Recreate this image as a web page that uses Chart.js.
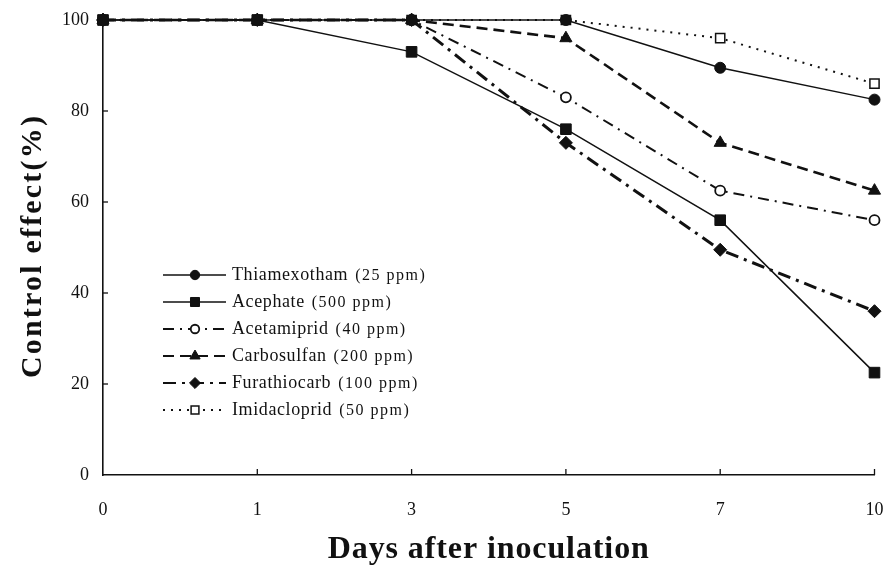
<!DOCTYPE html>
<html>
<head>
<meta charset="utf-8">
<script src="https://cdn.jsdelivr.net/npm/chart.js@4/dist/chart.umd.min.js"></script>
<style>
  html, body { margin: 0; padding: 0; background: #ffffff; }
  #c { display: block; }
</style>
</head>
<body>
<canvas id="c" width="883" height="565"></canvas>
<script>
// ---- data ----
const days = ['0', '1', '3', '5', '7', '10'];
const thiamexotham = [100, 100, 100, 100, 89.5, 82.5];
const acephate     = [100, 100, 93, 76, 56, 22.5];
const acetamiprid  = [100, 100, 100, 83, 62.5, 56];
const carbosulfan  = [100, 100, 100, 96, 73, 62.5];
const furathiocarb = [100, 100, 100, 73, 49.5, 36];
const imidacloprid = [100, 100, 100, 100, 96, 86];
const seriesNames  = ['Thiamexotham', 'Acephate', 'Acetamiprid', 'Carbosulfan', 'Furathiocarb', 'Imidacloprid'];
const seriesDoses  = ['(25 ppm)', '(500 ppm)', '(40 ppm)', '(200 ppm)', '(100 ppm)', '(50 ppm)'];
const yTickValues  = [0, 20, 40, 60, 80, 100];
const xTitle = 'Days after inoculation';
const yTitle = 'Control effect(%)';

const INK = '#111111';
const SERIF = '"Liberation Serif", "Times New Roman", serif';

function ds(label, data, st) {
  return Object.assign({
    label: label,
    data: data,
    borderColor: INK,
    backgroundColor: INK,
    pointBorderColor: INK,
    tension: 0,
    fill: false,
    clip: false
  }, st);
}

const datasets = [
  ds(seriesNames[0], thiamexotham, { borderWidth: 1.5, borderDash: [], pointStyle: 'circle', pointRadius: 5.5, pointBackgroundColor: INK, pointBorderWidth: 1 }),
  ds(seriesNames[1], acephate,     { borderWidth: 1.5, borderDash: [], pointStyle: 'rect', pointRadius: 7.5, pointBackgroundColor: INK, pointBorderWidth: 1 }),
  ds(seriesNames[2], acetamiprid,  { borderWidth: 2, borderDash: [11, 6, 2, 6], pointStyle: 'circle', pointRadius: 5, pointBackgroundColor: '#ffffff', pointBorderWidth: 1.8 }),
  ds(seriesNames[3], carbosulfan,  { borderWidth: 2.6, borderDash: [11, 6], pointStyle: 'triangle', pointRadius: 7, pointBackgroundColor: INK, pointBorderWidth: 1 }),
  ds(seriesNames[4], furathiocarb, { borderWidth: 3, borderDash: [13, 6, 3, 6], pointStyle: 'rectRot', pointRadius: 6.5, pointBackgroundColor: INK, pointBorderWidth: 1 }),
  ds(seriesNames[5], imidacloprid, { borderWidth: 2, borderDash: [2, 6], pointStyle: 'rect', pointRadius: 6.5, pointBackgroundColor: '#ffffff', pointBorderWidth: 1.5 })
];

function drawMarker(ctx, style, r, x, y, fill, bw) {
  ctx.save();
  ctx.setLineDash([]);
  ctx.beginPath();
  if (style === 'circle') {
    ctx.arc(x, y, r, 0, Math.PI * 2);
  } else if (style === 'rect') {
    const s = Math.SQRT1_2 * r;
    ctx.rect(x - s, y - s, 2 * s, 2 * s);
  } else if (style === 'triangle') {
    let a = 0;
    ctx.moveTo(x + Math.sin(a) * r, y - Math.cos(a) * r);
    a += 2 * Math.PI / 3;
    ctx.lineTo(x + Math.sin(a) * r, y - Math.cos(a) * r);
    a += 2 * Math.PI / 3;
    ctx.lineTo(x + Math.sin(a) * r, y - Math.cos(a) * r);
    ctx.closePath();
  } else if (style === 'rectRot') {
    ctx.moveTo(x - r, y);
    ctx.lineTo(x, y - r);
    ctx.lineTo(x + r, y);
    ctx.lineTo(x, y + r);
    ctx.closePath();
  }
  ctx.fillStyle = fill;
  ctx.fill();
  ctx.lineWidth = bw;
  ctx.strokeStyle = INK;
  ctx.stroke();
  ctx.restore();
}

const bgPlugin = {
  id: 'bg',
  beforeDraw(chart) {
    const ctx = chart.ctx;
    ctx.save();
    ctx.fillStyle = '#ffffff';
    ctx.fillRect(0, 0, chart.width, chart.height);
    ctx.restore();
  }
};

// inward tick marks, axis titles and legend
const decoPlugin = {
  id: 'deco',
  afterDraw(chart) {
    const ctx = chart.ctx;
    const xs = chart.scales.x, ys = chart.scales.y;
    const area = chart.chartArea;
    ctx.save();
    ctx.strokeStyle = INK;
    ctx.lineWidth = 1.3;
    ctx.setLineDash([]);
    yTickValues.forEach(v => {
      if (v === 0) return;
      const py = ys.getPixelForValue(v);
      ctx.beginPath();
      ctx.moveTo(area.left, py);
      ctx.lineTo(area.left + 5, py);
      ctx.stroke();
    });
    days.forEach((d, i) => {
      if (i === 0) return;
      const px = xs.getPixelForValue(i);
      ctx.beginPath();
      ctx.moveTo(px, area.bottom);
      ctx.lineTo(px, area.bottom - 6);
      ctx.stroke();
    });
    ctx.restore();

    // axis titles
    ctx.save();
    ctx.fillStyle = INK;
    ctx.textAlign = 'center';
    ctx.textBaseline = 'alphabetic';
    if ('letterSpacing' in ctx) ctx.letterSpacing = '0.9px';
    ctx.font = 'bold 32px ' + SERIF;
    ctx.fillText(xTitle, (area.left + area.right) / 2, 558);
    ctx.restore();

    ctx.save();
    ctx.fillStyle = INK;
    ctx.translate(33, 246);
    ctx.rotate(-Math.PI / 2);
    ctx.textAlign = 'center';
    ctx.textBaseline = 'middle';
    if ('letterSpacing' in ctx) ctx.letterSpacing = '2.2px';
    ctx.font = 'bold 30px ' + SERIF;
    ctx.fillText(yTitle, 0, 0);
    ctx.restore();

    // legend
    const lx0 = 163, lx1 = 226, mx = 195, tx = 232;
    const rowY0 = 275, rowStep = 27;
    chart.data.datasets.forEach((d, i) => {
      const y = rowY0 + i * rowStep;
      ctx.save();
      ctx.strokeStyle = INK;
      ctx.lineWidth = Math.min(d.borderWidth, 2.2);
      ctx.setLineDash(d.borderDash || []);
      ctx.beginPath();
      ctx.moveTo(lx0, y);
      ctx.lineTo(lx1, y);
      ctx.stroke();
      ctx.restore();
      drawMarker(ctx, d.pointStyle, d.pointRadius * 0.85, mx, y, d.pointBackgroundColor, d.pointBorderWidth);
      ctx.save();
      ctx.fillStyle = INK;
      ctx.textBaseline = 'middle';
      ctx.textAlign = 'left';
      if ('letterSpacing' in ctx) ctx.letterSpacing = '0.6px';
      ctx.font = '18px ' + SERIF;
      ctx.fillText(seriesNames[i], tx, y);
      const w = ctx.measureText(seriesNames[i]).width;
      if ('letterSpacing' in ctx) ctx.letterSpacing = '1.5px';
      ctx.font = '16px ' + SERIF;
      ctx.fillText(seriesDoses[i], tx + w + 7, y + 1);
      ctx.restore();
    });
  }
};

new Chart(document.getElementById('c'), {
  type: 'line',
  data: { labels: days, datasets: datasets },
  plugins: [bgPlugin, decoPlugin],
  options: {
    responsive: false,
    animation: false,
    devicePixelRatio: 1,
    layout: { padding: { left: 0, right: 8, top: 20, bottom: 0 } },
    plugins: { legend: { display: false }, tooltip: { enabled: false }, title: { display: false } },
    elements: { line: { borderCapStyle: 'butt' } },
    scales: {
      x: {
        type: 'category',
        offset: false,
        grid: { display: true, drawOnChartArea: false, drawTicks: true, tickLength: 25, color: 'rgba(0,0,0,0)' },
        border: { display: true, color: INK, width: 1.6 },
        ticks: { color: INK, font: { family: SERIF, size: 18 }, padding: -1, maxRotation: 0, autoSkip: false },
        title: { display: false },
        afterFit(s) { s.height = 90; }
      },
      y: {
        min: 0, max: 100,
        grid: { display: false },
        border: { display: true, color: INK, width: 1.6 },
        ticks: { color: INK, font: { family: SERIF, size: 18 }, padding: 6, stepSize: 20, callback: (v) => yTickValues.includes(v) ? String(v) : '' },
        title: { display: false },
        afterFit(s) { s.width = 103; }
      }
    }
  }
});
</script>
</body>
</html>
